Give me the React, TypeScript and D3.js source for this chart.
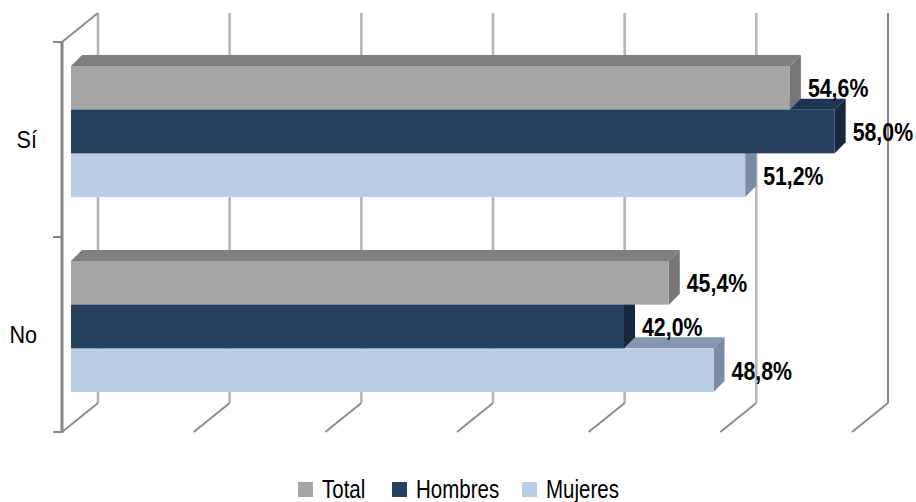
import React from 'react';
import * as d3 from 'd3';

// chart data
const categories = ['Sí', 'No'];
const seriesNames = ['Total', 'Hombres', 'Mujeres'];
const totalValues = [0.546, 0.454];
const hombresValues = [0.58, 0.42];
const mujeresValues = [0.512, 0.488];
const axisTicks = [0, 0.1, 0.2, 0.3, 0.4, 0.5, 0.6];

const seriesValues = [totalValues, hombresValues, mujeresValues];

// front / top / right face colours per series
const faceColors = [
  { front: '#a6a6a6', top: '#7f7f7f', side: '#767676' },
  { front: '#254061', top: '#1e3450', side: '#17283d' },
  { front: '#b9cde5', top: '#8597b0', side: '#7a8ba3' },
];

const W = 916;
const H = 502;

// oblique 3d layout
const frontX = 62; // zero of value axis on the front plane
const plotTop = 42;
const plotBottom = 432;
const wallDx = 36;
const wallDy = 29;
const barShiftX = 9;
const barShiftY = -8;
const barDepth = 11;
const squeeze = 0.82; // no Arial Narrow here, so condense Liberation Sans

const x = d3.scaleLinear().domain([0, 0.6]).range([0, 790]);
const yCat = d3.scaleBand<string>()
  .domain(categories)
  .range([plotTop, plotBottom])
  .paddingInner(0.328)
  .paddingOuter(0.164);
const ySer = d3.scaleBand<string>().domain(seriesNames).range([0, yCat.bandwidth()]);

const fmt = (v: number) => d3.format('.1f')(v * 100).replace('.', ',') + '%';

const font = "'Liberation Sans', Arial, sans-serif";

function NarrowText(props: any) {
  const { x: tx, y: ty, anchor, sx, children, ...rest } = props;
  return (
    <text
      transform={`translate(${tx},${ty}) scale(${sx || squeeze},1)`}
      textAnchor={anchor || 'start'}
      fontFamily={font}
      fill="#000"
      {...rest}
    >
      {children}
    </text>
  );
}

function Bar(props: any) {
  const { v, y0, h, c } = props;
  const xa = frontX + barShiftX;
  const xb = xa + x(v);
  const y1 = y0 + h;
  const d = barDepth;
  const top = [[xa, y0], [xb, y0], [xb + d, y0 - d], [xa + d, y0 - d]];
  const side = [[xb, y0], [xb + d, y0 - d], [xb + d, y1 - d], [xb, y1]];
  return (
    <g>
      <polygon points={top.map(p => p.join(',')).join(' ')} fill={c.top} />
      <polygon points={side.map(p => p.join(',')).join(' ')} fill={c.side} />
      <rect x={xa} y={y0} width={xb - xa} height={h} fill={c.front} />
    </g>
  );
}

export default function App() {
  const backX = frontX + wallDx;
  const backTop = plotTop - wallDy;
  const backBottom = plotBottom - wallDy;

  const bars: any[] = [];
  const labels: any[] = [];
  categories.forEach((cat, ci) => {
    // lower series first so the upper bar hides their top faces
    for (let si = seriesNames.length - 1; si >= 0; si--) {
      const v = seriesValues[si][ci];
      const y0 = (yCat(cat) as number) + (ySer(seriesNames[si]) as number) + barShiftY;
      const h = ySer.bandwidth();
      bars.push(<Bar key={cat + si} v={v} y0={y0} h={h} c={faceColors[si]} />);
      labels.push(
        <NarrowText
          key={'l' + cat + si}
          x={frontX + barShiftX + x(v) + 18}
          y={y0 + h / 2 + 9.5}
          fontWeight="bold"
          fontSize={26}
        >
          {fmt(v)}
        </NarrowText>
      );
    }
  });

  const legendX = [298, 392, 522];

  return (
    <svg width={W} height={H} style={{ position: 'absolute', left: 0, top: 0, background: '#fff' }}>
      {/* back wall gridlines */}
      {axisTicks.map((t, i) => (
        <line
          key={'g' + i}
          x1={backX + x(t)}
          x2={backX + x(t)}
          y1={backTop}
          y2={backBottom}
          stroke={i === axisTicks.length - 1 ? '#8a8a8a' : '#b3b3b3'}
          strokeWidth={i === axisTicks.length - 1 ? 2 : 2.5}
        />
      ))}
      {/* floor gridlines */}
      {axisTicks.map((t, i) => (
        <line
          key={'f' + i}
          x1={backX + x(t)}
          y1={backBottom}
          x2={frontX + x(t)}
          y2={plotBottom}
          stroke="#8c8c8c"
          strokeWidth={2}
        />
      ))}
      {/* left wall top edge */}
      <line x1={backX} y1={backTop} x2={frontX} y2={plotTop} stroke="#8c8c8c" strokeWidth={2} />
      {/* category axis */}
      <line x1={frontX} x2={frontX} y1={plotTop} y2={plotBottom + 1} stroke="#868686" strokeWidth={3} />
      {[plotTop, yCat('No')! - yCat.step() * 0.164, plotBottom].map((yy, i) => (
        <line key={'t' + i} x1={53} x2={frontX} y1={yy} y2={yy} stroke="#868686" strokeWidth={2} />
      ))}
      {categories.map(cat => (
        <NarrowText
          key={'c' + cat}
          x={37}
          y={(yCat(cat) as number) + yCat.bandwidth() / 2 + 8.5}
          anchor="end"
          sx={0.9}
          fontSize={24}
        >
          {cat}
        </NarrowText>
      ))}
      {bars}
      {labels}
      {/* legend */}
      {seriesNames.map((s, i) => (
        <g key={'lg' + s}>
          <rect x={legendX[i]} y={482} width={15} height={15} fill={faceColors[i].front} />
          <NarrowText x={legendX[i] + 24} y={498} fontSize={25}>
            {s}
          </NarrowText>
        </g>
      ))}
    </svg>
  );
}
